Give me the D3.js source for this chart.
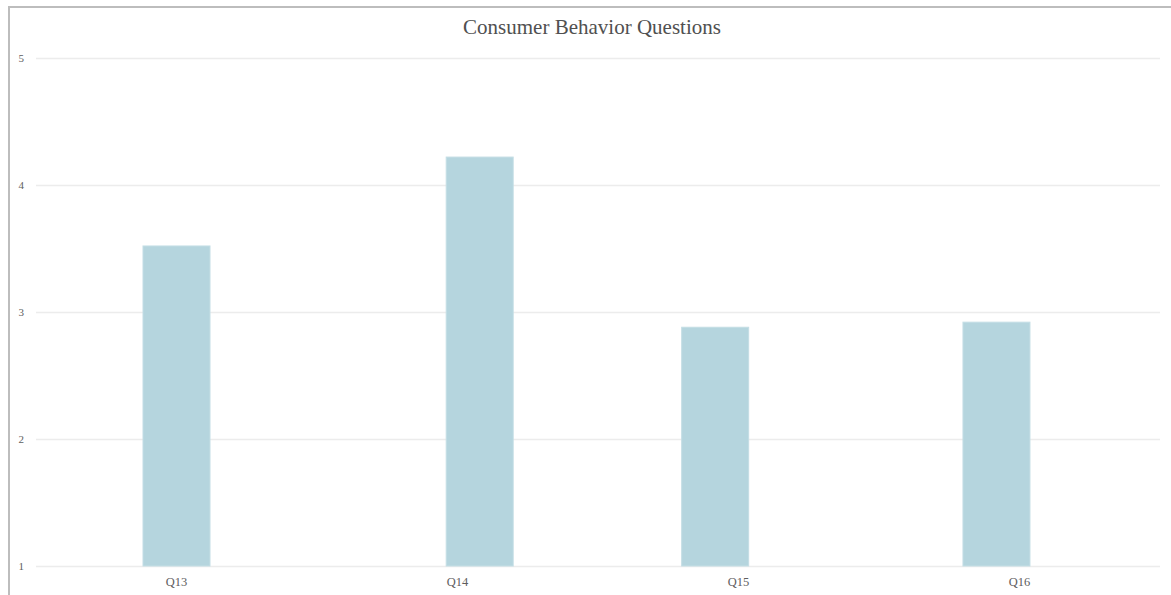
<!DOCTYPE html>
<html>
<head>
<meta charset="utf-8">
<script src="https://cdn.jsdelivr.net/npm/d3@7"></script>
<style>
  html, body { margin: 0; padding: 0; background: #fff; }
  svg { display: block; }
</style>
</head>
<body>
<svg id="chart" width="1171" height="595"></svg>
<script>
// Mean scores per survey question
const questions = ["Q13", "Q14", "Q15", "Q16"];
const scores = [3.52, 4.22, 2.88, 2.92];
const yTicks = [1, 2, 3, 4, 5];
const chartTitle = "Consumer Behavior Questions";

// Layout
const W = 1171, H = 595;
const plot = { left: 36, right: 1160, top: 58, bottom: 566 };
const barWidth = 67;
// horizontal shift of each bar inside its category slot, as a fraction of the slot
const barShift = [0, 0.079, -0.083, -0.082];

const svg = d3.select("#chart");
const font = "'Liberation Serif', 'Times New Roman', serif";

// panel frame (top and left edges)
svg.append("path")
  .attr("d", `M9,${H} V7 H${W}`)
  .attr("fill", "none")
  .attr("stroke", "#bdbdbd")
  .attr("stroke-width", 2);

const x = d3.scaleBand()
  .domain(questions)
  .range([plot.left, plot.right])
  .padding(0);

const y = d3.scaleLinear()
  .domain([1, 5])
  .range([plot.bottom, plot.top]);

// horizontal gridlines with value labels
const yAxis = d3.axisLeft(y)
  .tickValues(yTicks)
  .tickSize(-(plot.right - plot.left))
  .tickPadding(12)
  .tickFormat(d3.format("d"));

const gy = svg.append("g")
  .attr("transform", `translate(${plot.left},0)`)
  .call(yAxis);
gy.select(".domain").remove();
gy.selectAll(".tick line")
  .attr("stroke", "#ececec")
  .attr("stroke-width", 1.5);
gy.selectAll(".tick text")
  .attr("fill", "#5e5e5e")
  .attr("font-family", font)
  .attr("font-size", 11);

// bars
svg.append("g")
  .selectAll("rect")
  .data(questions.map((q, i) => ({ q, v: scores[i], s: barShift[i] })))
  .join("rect")
  .attr("x", d => x(d.q) + x.bandwidth() * (0.5 + d.s) - barWidth / 2)
  .attr("y", d => y(d.v))
  .attr("width", barWidth)
  .attr("height", d => y(1) - y(d.v))
  .attr("fill", "#b5d5de")
  .attr("stroke", "#c4dee5")
  .attr("stroke-width", 1);

// category axis
const xAxis = d3.axisBottom(x).tickSize(0).tickPadding(11);
const gx = svg.append("g")
  .attr("transform", `translate(0,${plot.bottom})`)
  .call(xAxis);
gx.select(".domain").remove();
gx.selectAll(".tick text")
  .attr("fill", "#5e5e5e")
  .attr("font-family", font)
  .attr("font-size", 12.5);

// title
svg.append("text")
  .attr("x", 592)
  .attr("y", 34)
  .attr("text-anchor", "middle")
  .attr("fill", "#505050")
  .attr("font-family", font)
  .attr("font-size", 21)
  .text(chartTitle);
</script>
</body>
</html>
